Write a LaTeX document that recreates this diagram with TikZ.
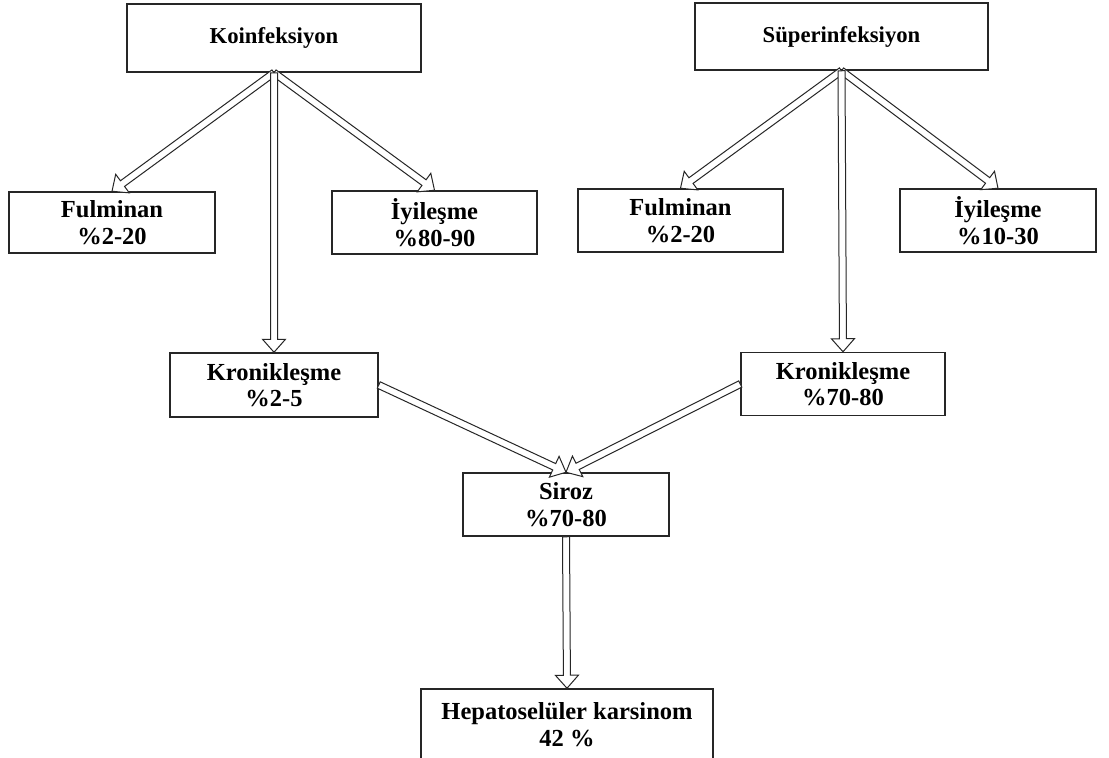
\documentclass[tikz,border=0pt]{standalone}
\usepackage{fontspec}
\setmainfont{Liberation Serif}
\usetikzlibrary{calc}
\newcommand{\topfnt}{\fontsize{22.7}{26}\selectfont\bfseries}
\newcommand{\bigfnt}{\fontsize{24.5}{26.5}\selectfont\bfseries}
\tikzset{
  box/.style={draw=black!85, line width=1.5pt, fill=white, align=center, inner sep=0pt, font=\bigfnt},
  topbox/.style={box, font=\topfnt},
  barrowstyle/.style={draw=black!85, line width=1pt, fill=white, line join=miter}
}
\newcommand{\blockarrow}[2]{%
  \draw[barrowstyle] let \p1=(#1), \p2=(#2), \p3=($(\p2)!13pt!(\p1)$) in
    ($(\p1)!3.5pt!90:(\p2)$) -- ($(\p3)!3.5pt!-90:(\p1)$) -- ($(\p3)!11.5pt!-90:(\p1)$) -- (\p2)
    -- ($(\p3)!11.5pt!90:(\p1)$) -- ($(\p3)!3.5pt!90:(\p1)$) -- ($(\p1)!3.5pt!-90:(\p2)$) -- cycle;}
\begin{document}
\begin{tikzpicture}[x=1pt,y=-1pt]
\useasboundingbox (0,0) rectangle (1109,758);
\fill[white] (0,0) rectangle (1109,758);
\node[topbox, minimum width=294pt, minimum height=68pt] (koi) at (274,38) {Koinfeksiyon};
\node[topbox, minimum width=293pt, minimum height=67pt] (sup) at (841.5,36.5) {Süperinfeksiyon};
\node[box, minimum width=206pt, minimum height=61pt] (ful1) at (112,222.5) {Fulminan\\\%2-20};
\node[box, minimum width=205pt, minimum height=63pt] (iyi1) at (434.5,222.5) {İyileşme\\\%80-90};
\node[box, minimum width=205pt, minimum height=63pt] (ful2) at (680.5,220.5) {Fulminan\\\%2-20};
\node[box, minimum width=196pt, minimum height=63pt] (iyi2) at (998,220.5) {İyileşme\\\%10-30};
\node[box, minimum width=208pt, minimum height=64pt] (kro1) at (274,385) {Kronikleşme\\\%2-5};
\node[box, minimum width=204pt, minimum height=63pt] (kro2) at (843,384) {Kronikleşme\\\%70-80};
\node[box, minimum width=206pt, minimum height=63pt] (sir) at (566,504.5) {Siroz\\\%70-80};
\node[box, minimum width=292pt, minimum height=71pt] (hep) at (567,724.5) {Hepatoselüler karsinom\\42 \%};
\blockarrow{koi.south}{ful1.north}
\blockarrow{koi.south}{iyi1.north}
\blockarrow{koi.south}{kro1.north}
\blockarrow{sup.south}{ful2.north}
\blockarrow{sup.south}{iyi2.north}
\blockarrow{sup.south}{kro2.north}
\blockarrow{kro1.east}{sir.north}
\blockarrow{kro2.west}{sir.north}
\blockarrow{sir.south}{hep.north}
\end{tikzpicture}
\end{document}
